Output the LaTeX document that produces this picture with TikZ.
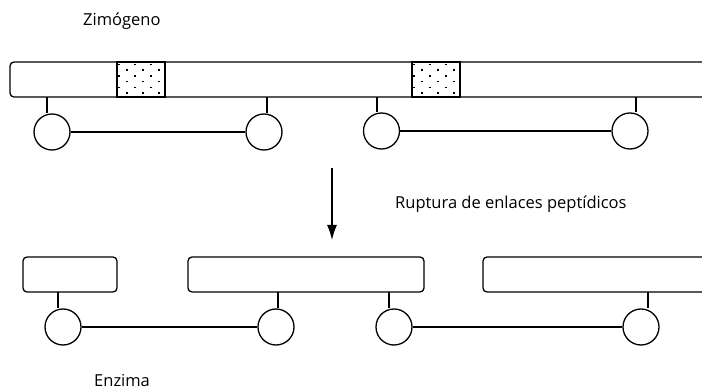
\documentclass[tikz,border=0pt]{standalone}
\usepackage{fontspec}
\setmainfont{Open Sans}
\usetikzlibrary{positioning,arrows.meta}
\tikzset{>={Latex[length=15pt,width=10pt]}}
\tikzstyle{chain}=[draw,line width=1.3pt,rounded corners=4pt,inner sep=0pt,minimum height=35pt]
\tikzstyle{res}=[draw,circle,line width=1.3pt,minimum size=36pt,inner sep=0pt]
\tikzstyle{bond}=[line width=1.3pt]
\tikzstyle{lbl}=[anchor=base west,inner sep=0pt,font=\fontsize{16.5}{20}\selectfont]

\begin{document}
\begin{tikzpicture}[x=1pt,y=-1pt]
  \clip (0,0) rectangle (702,390);

  % ZYMOGEN CHAIN
  \node[chain,minimum width=730pt] (zchain) at (375,79.5) {};
  \foreach \xa in {117,412}{
    \draw[bond] (\xa,62) rectangle (\xa+48,97);
    \foreach \i [evaluate={\off=8*mod(\i,2);}] in {0,...,5}{
      \foreach \j in {0,...,2}{
        \draw[line width=1.5pt] (\xa+1+\j*16+\off,64.5+\i*5.7) --++ (2.4,0);
      }
    }
  }
  \node[res] (z1) at (52,132) {};
  \node[res] (z2) at (264,132) {};
  \node[res] (z3) at (381.5,131) {};
  \node[res] (z4) at (630,131) {};
  \foreach \c/\xs in {z1/47,z2/267,z3/377,z4/636}{
    \coordinate (s\c) at (\xs,97);
    \draw[bond] (s\c) -- (s\c |- \c.north);
  }
  \draw[bond] (z1) -- (z2);
  \draw[bond] (z3) -- (z4);
  \node[lbl] (zim) at (83,26) {Zimógeno};

  % CLEAVAGE
  \coordinate (atop) at (332,168);
  \coordinate (abot) at (332,240);
  \draw[bond,->] (atop) -- (abot);
  \node[lbl] (rup) at (395,209) {Ruptura de enlaces peptídicos};

  % ENZYME CHAINS
  \node[chain,minimum width=94pt] (ea) at (70,274.5) {};
  \node[chain,minimum width=236pt] (eb) at (306,274.5) {};
  \node[chain,minimum width=300pt] (ec) at (633,274.5) {};
  \node[res] (e1) at (63,327) {};
  \node[res] (e2) at (276,327) {};
  \node[res] (e3) at (394,327) {};
  \node[res] (e4) at (641,327) {};
  \foreach \c/\xs in {e1/58,e2/278,e3/389,e4/648}{
    \coordinate (s\c) at (\xs,292);
    \draw[bond] (s\c) -- (s\c |- \c.north);
  }
  \draw[bond] (e1) -- (e2);
  \draw[bond] (e3) -- (e4);
  \node[lbl] (enz) at (94,386) {Enzima};
\end{tikzpicture}
\end{document}
